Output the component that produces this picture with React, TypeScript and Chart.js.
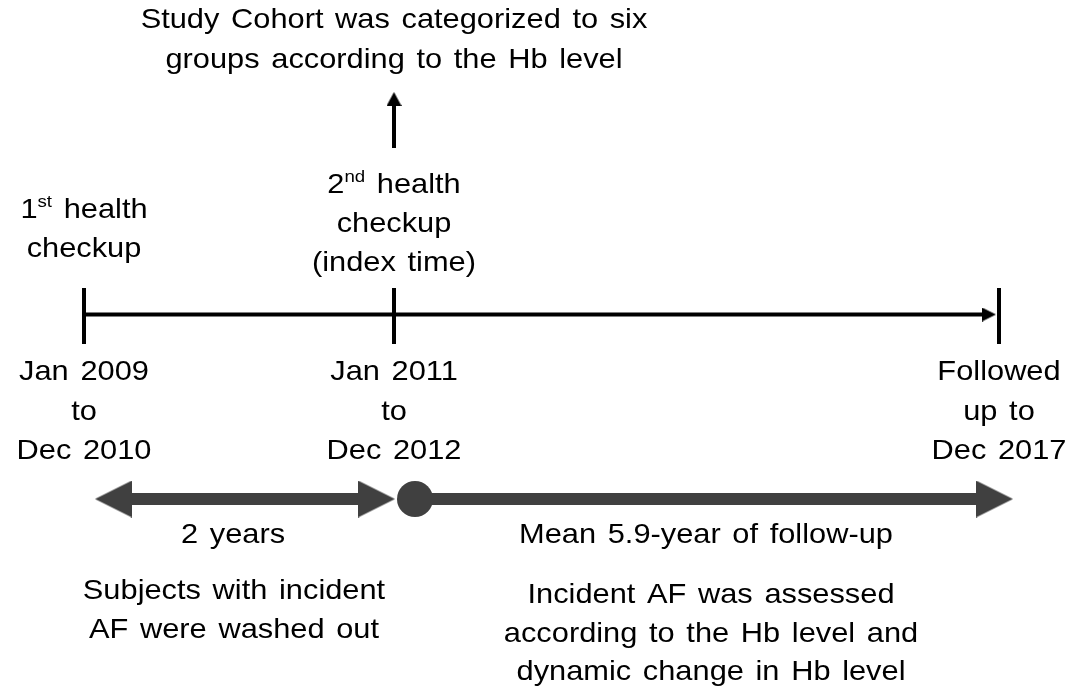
import React, { useEffect, useRef } from "react";
import { Chart, registerables } from "chart.js";

Chart.register(...registerables);

// ---------- content ----------
const headerLines = ["Study Cohort was categorized to six", "groups according to the Hb level"];
const checkupLabels = [
  ["1{st} health", "checkup"],
  ["2{nd} health", "checkup", "(index time)"],
];
const periodLabels = [
  ["Jan 2009", "to", "Dec 2010"],
  ["Jan 2011", "to", "Dec 2012"],
  ["Followed", "up to", "Dec 2017"],
];
// schematic position of the three milestones along the timeline (diagram units)
const milestoneX = [84, 394, 999];
const washoutLabel = "2 years";
const followupLabel = "Mean 5.9-year of follow-up";
const washoutNote = ["Subjects with incident", "AF were washed out"];
const followupNote = ["Incident AF was assessed", "according to the Hb level and", "dynamic change in Hb level"];

// ---------- layout / style ----------
const W = 1068;
const H = 690;
const FONT = '"Liberation Sans", Arial, sans-serif';
const FS = 28;
const SX = 1.1; // horizontal stretch of the text
const WORD_GAP = 2.8; // extra space between words
const BLACK = "#000000";
const GRAY = "#404040";
const LINE_Y = 314.5;
const TICK_TOP = 288;
const TICK_BOTTOM = 344;
const BAND_Y = 499;

function makeHead(len: number, wid: number, color: string): HTMLCanvasElement {
  const c = document.createElement("canvas");
  c.width = len;
  c.height = wid;
  const g = c.getContext("2d")!;
  g.fillStyle = color;
  g.beginPath();
  g.moveTo(0, 0);
  g.lineTo(len, wid / 2);
  g.lineTo(0, wid);
  g.closePath();
  g.fill();
  return c;
}

function drawRich(ctx: CanvasRenderingContext2D, text: string, cx: number, cy: number) {
  // split into normal / superscript runs, then into words and spaces
  const runs: { t: string; sup: boolean }[] = [];
  const re = /\{([^}]*)\}/g;
  let last = 0;
  let m: RegExpExecArray | null;
  while ((m = re.exec(text))) {
    if (m.index > last) runs.push({ t: text.slice(last, m.index), sup: false });
    runs.push({ t: m[1], sup: true });
    last = m.index + m[0].length;
  }
  if (last < text.length) runs.push({ t: text.slice(last), sup: false });
  const pieces: { t: string; sup: boolean; space: boolean }[] = [];
  runs.forEach((r) => {
    r.t.split(/( )/).forEach((s) => {
      if (s.length) pieces.push({ t: s, sup: r.sup, space: s === " " });
    });
  });
  const fontFor = (sup: boolean) => `${sup ? Math.round(FS * 0.62) : FS}px ${FONT}`;
  let total = 0;
  const widths = pieces.map((p) => {
    ctx.font = fontFor(p.sup);
    const w = ctx.measureText(p.t).width + (p.space ? WORD_GAP : 0);
    total += w;
    return w;
  });
  ctx.save();
  ctx.translate(cx, cy);
  ctx.scale(SX, 1);
  ctx.fillStyle = BLACK;
  ctx.textBaseline = "alphabetic";
  ctx.textAlign = "left";
  let x = -total / 2;
  const base = FS * 0.36;
  pieces.forEach((p, i) => {
    if (!p.space) {
      ctx.font = fontFor(p.sup);
      ctx.fillText(p.t, x, p.sup ? base - FS * 0.4 : base);
    }
    x += widths[i];
  });
  ctx.restore();
}

type TextBlock = { lines: string[]; x: number; y: number; gap: number };

const textPlugin = {
  id: "diagramText",
  afterDatasetsDraw(chart: any) {
    const { ctx, scales } = chart;
    const blocks: TextBlock[] = [
      { lines: headerLines, x: milestoneX[1], y: 18, gap: 40 },
      { lines: checkupLabels[0], x: milestoneX[0], y: 208, gap: 39 },
      { lines: checkupLabels[1], x: milestoneX[1], y: 183, gap: 39 },
      { lines: periodLabels[0], x: milestoneX[0], y: 370, gap: 39.5 },
      { lines: periodLabels[1], x: milestoneX[1], y: 370, gap: 39.5 },
      { lines: periodLabels[2], x: milestoneX[2], y: 370, gap: 39.5 },
      { lines: [washoutLabel], x: 233, y: 533, gap: 0 },
      { lines: [followupLabel], x: 706, y: 533, gap: 0 },
      { lines: washoutNote, x: 234, y: 589, gap: 38.5 },
      { lines: followupNote, x: 711, y: 593, gap: 38.5 },
    ];
    blocks.forEach((b) => {
      b.lines.forEach((ln, i) => {
        const px = scales.x.getPixelForValue(b.x);
        const py = scales.y.getPixelForValue(b.y + i * b.gap);
        drawRich(ctx, ln, px, py);
      });
    });
  },
};

export default function App() {
  const ref = useRef<HTMLCanvasElement | null>(null);

  useEffect(() => {
    if (!ref.current) return;
    const blackHead = makeHead(14, 14, BLACK);
    const upHead = makeHead(14, 15, BLACK);
    const grayHead = makeHead(37, 37, GRAY);

    const seg = (x1: number, y1: number, x2: number, y2: number) => [
      { x: x1, y: y1 },
      { x: x2, y: y2 },
    ];

    const datasets: any[] = [
      // main black timeline with arrow head
      {
        data: seg(milestoneX[0], LINE_Y, milestoneX[2] - 10, LINE_Y),
        borderColor: BLACK,
        borderWidth: 4,
        pointRadius: [0, 7],
        pointStyle: ["circle", blackHead],
        pointRotation: 0,
      },
      // milestone ticks
      ...milestoneX.map((mx) => ({
        data: seg(mx, TICK_TOP, mx, TICK_BOTTOM),
        borderColor: BLACK,
        borderWidth: 4,
        pointRadius: 0,
      })),
      // upward arrow from index time
      {
        data: seg(milestoneX[1], 148, milestoneX[1], 99),
        borderColor: BLACK,
        borderWidth: 4,
        pointRadius: [0, 7],
        pointStyle: ["circle", upHead],
        pointRotation: [0, -90],
      },
      // gray double arrow (wash-out period)
      {
        data: seg(113.5, BAND_Y, milestoneX[1] - 17.5, BAND_Y),
        borderColor: GRAY,
        borderWidth: 12,
        pointRadius: 18,
        pointStyle: grayHead,
        pointRotation: [180, 0],
      },
      // gray follow-up arrow with starting dot
      {
        data: seg(milestoneX[1] + 21, BAND_Y, 994.5, BAND_Y),
        borderColor: GRAY,
        backgroundColor: GRAY,
        borderWidth: 12,
        pointRadius: 18,
        pointBorderWidth: 0,
        pointStyle: ["circle", grayHead],
        pointRotation: 0,
      },
    ].map((d) => ({ showLine: true, fill: false, tension: 0, clip: false, ...d }));

    const chart = new Chart(ref.current, {
      type: "scatter",
      data: { datasets },
      options: {
        animation: false,
        responsive: false,
        devicePixelRatio: 1,
        layout: { padding: 0, autoPadding: false },
        plugins: { legend: { display: false }, tooltip: { enabled: false } },
        events: [],
        scales: {
          x: { type: "linear", min: 0, max: W, display: false },
          y: { type: "linear", min: 0, max: H, reverse: true, display: false },
        },
      },
      plugins: [textPlugin],
    } as any);
    return () => chart.destroy();
  }, []);

  return (
    <div style={{ position: "fixed", left: 0, top: 0, width: W, height: H, background: "#fff" }}>
      <canvas ref={ref} width={W} height={H} style={{ width: W, height: H, display: "block" }} />
    </div>
  );
}
